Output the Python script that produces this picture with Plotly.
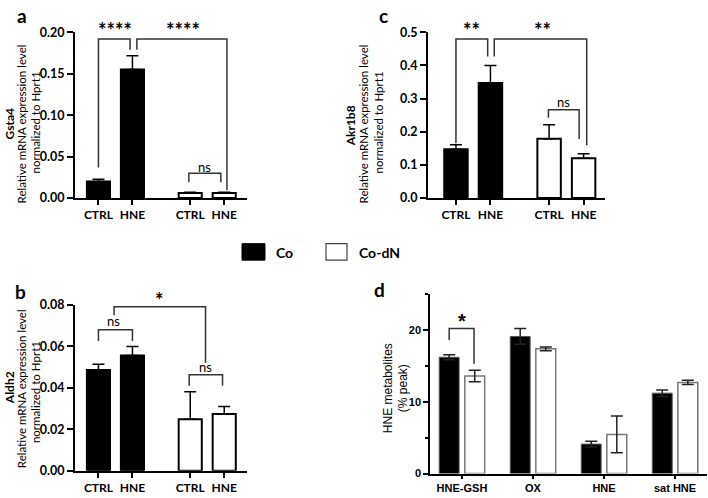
import plotly.graph_objects as go

W, H = 708, 498

# ---------------- data ----------------
cond_labels = ["CTRL", "HNE", "CTRL", "HNE"]
cond_pos = [0, 1, 2.7, 3.7]

gsta4_mean = [0.020, 0.155, 0.006, 0.006]
gsta4_err = [0.0026, 0.0166, 0.0012, 0.0012]

akr1b8_mean = [0.147, 0.347, 0.179, 0.120]
akr1b8_err = [0.014, 0.053, 0.042, 0.014]

aldh2_mean = [0.0485, 0.0555, 0.0248, 0.0273]
aldh2_err = [0.0028, 0.0044, 0.0132, 0.0036]

metab_cats = ["HNE-GSH", "OX", "HNE", "sat HNE"]
metab_co = [16.2, 19.1, 4.1, 11.2]
metab_co_err = [0.35, 1.1, 0.4, 0.45]
metab_codn = [13.6, 17.37, 5.45, 12.7]
metab_codn_err = [0.8, 0.25, 2.55, 0.3]

FONT = "Lato"
ARIAL = "Liberation Sans"


def px_x(p):
    return p / W


def px_y(p):
    return 1 - p / H


fig = go.Figure()

panels = [
    ("a", "x", "y", gsta4_mean, gsta4_err, (75, 247), (25, 196), [0, 0.20], 0.05, ".2f", [-0.69, 4.37]),
    ("c", "x2", "y2", akr1b8_mean, akr1b8_err, (428, 605), (25, 196), [0, 0.5], 0.1, ".1f", [-0.81, 4.32]),
    ("b", "x3", "y3", aldh2_mean, aldh2_err, (75, 247), (306, 477), [0, 0.08], 0.02, ".2f", [-0.69, 4.37]),
]
yranges = {}

layout_axes = {}
for name, xa, ya, means, errs, xd, yd, yr, dt, fmt, xr in panels:
    yranges[ya] = yr
    fig.add_trace(go.Bar(
        x=cond_pos[:2], y=means[:2], xaxis=xa, yaxis=ya, width=0.68,
        marker=dict(color="black", line=dict(color="black", width=2)),
        error_y=dict(type="data", array=errs[:2], arrayminus=[0, 0], symmetric=False,
                     color="black", thickness=1.5, width=6),
        showlegend=False, cliponaxis=False))
    fig.add_trace(go.Bar(
        x=cond_pos[2:], y=means[2:], xaxis=xa, yaxis=ya, width=0.68,
        marker=dict(color="white", line=dict(color="black", width=2)),
        error_y=dict(type="data", array=errs[2:], arrayminus=[0, 0], symmetric=False,
                     color="black", thickness=1.5, width=6),
        showlegend=False, cliponaxis=False))
    xk = "xaxis" + xa[1:]
    yk = "yaxis" + ya[1:]
    layout_axes[xk] = dict(
        domain=[px_x(xd[0]), px_x(xd[1])], anchor=ya, range=xr,
        tickvals=cond_pos, ticktext=cond_labels, showline=True, linecolor="black",
        linewidth=2, ticks="outside", ticklen=5, tickwidth=2, tickcolor="black",
        showgrid=False, zeroline=False,
        tickfont=dict(family=FONT, size=12, color="black", weight="bold"))
    layout_axes[yk] = dict(
        domain=[px_y(yd[1]), px_y(yd[0])], anchor=xa, range=yr, dtick=dt,
        tickformat=fmt, showline=True, linecolor="black", linewidth=2,
        ticks="outside", ticklen=6, tickwidth=2, tickcolor="black",
        showgrid=False, zeroline=False,
        tickfont=dict(family=FONT, size=12.5, color="black", weight="bold"))

# panel d
dx = list(range(len(metab_cats)))
yranges["y4"] = [0, 25]
fig.add_trace(go.Bar(
    x=[v - 0.18 for v in dx], y=metab_co, xaxis="x4", yaxis="y4", width=0.28,
    marker=dict(color="black", line=dict(color="#555", width=1)),
    error_y=dict(type="data", array=metab_co_err, color="#222", thickness=1.5, width=6),
    showlegend=False, cliponaxis=False))
fig.add_trace(go.Bar(
    x=[v + 0.18 for v in dx], y=metab_codn, xaxis="x4", yaxis="y4", width=0.28,
    marker=dict(color="white", line=dict(color="#777", width=1.5)),
    error_y=dict(type="data", array=metab_codn_err, color="#222", thickness=1.5, width=6),
    showlegend=False, cliponaxis=False))
layout_axes["xaxis4"] = dict(
    domain=[px_x(430), px_x(707)], anchor="y4", range=[-0.45, 3.45],
    tickvals=dx, ticktext=metab_cats, showline=True, linecolor="black",
    linewidth=1.5, ticks="outside", ticklen=4, tickwidth=1.5, tickcolor="black",
    showgrid=False, zeroline=False,
    tickfont=dict(family=ARIAL, size=11, color="black", weight="bold"))
layout_axes["yaxis4"] = dict(
    domain=[px_y(480), px_y(295)], anchor="x4", range=[0, 25], tickvals=[0, 10, 20],
    showline=True, linecolor="black", linewidth=1.5, ticks="outside", ticklen=5,
    tickwidth=1.5, tickcolor="black", showgrid=False, zeroline=False,
    minor=dict(tickvals=[5, 15, 25], ticks="outside", ticklen=3, tickwidth=1.5, tickcolor="black"),
    tickfont=dict(family=ARIAL, size=11, color="black", weight="bold"))

shapes = []


def bracket(xa, ya, x0, x1, ytop, yl, yr):
    shapes.append(dict(type="path", xref=xa, yref=ya,
                       path=f"M {x0},{yl} L {x0},{ytop} L {x1},{ytop} L {x1},{yr}",
                       line=dict(color="#333", width=1.5)))


annots = []


def label(xa, ya, x, y, text, size=13, bold=False, family=FONT):
    lo, hi = yranges[ya]
    annots.append(dict(xref=xa, yref=ya + " domain", x=x, y=(y - lo) / (hi - lo), text=text,
                       showarrow=False,
                       font=dict(family=family, size=size, color="black",
                                 weight="bold" if bold else "normal"),
                       xanchor="center", yanchor="middle"))


# panel a brackets
bracket("x", "y", 0, 0.93, 0.192, 0.037, 0.179)
bracket("x", "y", 1.13, 3.78, 0.192, 0.179, 0.0094)
bracket("x", "y", 2.66, 3.6, 0.030, 0.019, 0.019)
label("x", "y", 0.5, 0.203, "****", 20, True)
label("x", "y", 2.5, 0.203, "****", 20, True)
label("x", "y", 3.13, 0.038, "ns", 13)

# panel c brackets
bracket("x2", "y2", 0, 0.92, 0.48, 0.165, 0.427)
bracket("x2", "y2", 1.11, 3.79, 0.48, 0.427, 0.159)
bracket("x2", "y2", 2.68, 3.57, 0.266, 0.242, 0.178)
label("x2", "y2", 0.46, 0.508, "**", 20, True)
label("x2", "y2", 2.5, 0.508, "**", 20, True)
label("x2", "y2", 3.12, 0.29, "ns", 13)

# panel b brackets
bracket("x3", "y3", 0, 1.0, 0.068, 0.0625, 0.0625)
bracket("x3", "y3", 0.46, 3.15, 0.079, 0.075, 0.0519)
bracket("x3", "y3", 2.67, 3.65, 0.0462, 0.041, 0.041)
label("x3", "y3", 0.45, 0.0722, "ns", 13)
label("x3", "y3", 1.8, 0.0825, "*", 20, True)
label("x3", "y3", 3.16, 0.0502, "ns", 13)

# panel d bracket
bracket("x4", "y4", -0.18, 0.17, 20.2, 18.6, 15.3)
label("x4", "y4", 0.0, 21.2, "*", 20, True, ARIAL)

# panel letters
for t, x, y in [("a", 22, 8), ("c", 383, 8), ("b", 20, 292), ("d", 379, 290)]:
    annots.append(dict(xref="paper", yref="paper", x=px_x(x), y=px_y(y), text=t,
                       showarrow=False, xanchor="center", yanchor="middle",
                       font=dict(family=FONT, size=19, color="black", weight="bold")))


def ytitle(xc, yc, text, size=11, bold=False, family=FONT):
    annots.append(dict(xref="paper", yref="paper", x=px_x(xc), y=px_y(yc), text=text,
                       showarrow=False, textangle=-90, xanchor="center", yanchor="middle",
                       font=dict(family=family, size=size, color="black",
                                 weight="bold" if bold else "normal")))


# y titles
ytitle(9, 120, "Gsta4", 12, True)
ytitle(21, 120, "Relative mRNA expression level", 11.5)
ytitle(35, 118, "normalized to Hprt1", 11.5)
ytitle(350, 122, "Akr1b8", 12, True)
ytitle(363, 120, "Relative mRNA expression level", 11.5)
ytitle(378, 118, "normalized to Hprt1", 11.5)
ytitle(9, 392, "Aldh2", 12, True)
ytitle(21, 393, "Relative mRNA expression level", 11.5)
ytitle(35, 396, "normalized to Hprt1", 11.5)
ytitle(388, 392, "HNE metabolites", 12, False, ARIAL)
ytitle(403, 392, "(% peak)", 12, False, ARIAL)

# legend
shapes.append(dict(type="rect", xref="paper", yref="paper", x0=px_x(242), x1=px_x(265),
                   y0=px_y(260), y1=px_y(243), fillcolor="black", line=dict(color="black", width=1)))
shapes.append(dict(type="rect", xref="paper", yref="paper", x0=px_x(326), x1=px_x(347),
                   y0=px_y(260), y1=px_y(243), fillcolor="white", line=dict(color="#444", width=1.2)))
annots.append(dict(xref="paper", yref="paper", x=px_x(274), y=px_y(252), text="Co",
                   showarrow=False, xanchor="left", yanchor="middle",
                   font=dict(family=FONT, size=14, color="black", weight="bold")))
annots.append(dict(xref="paper", yref="paper", x=px_x(357), y=px_y(252), text="Co-dN",
                   showarrow=False, xanchor="left", yanchor="middle",
                   font=dict(family=FONT, size=14, color="black", weight="bold")))

fig.update_layout(
    width=W, height=H, margin=dict(l=0, r=0, t=0, b=0),
    paper_bgcolor="white", plot_bgcolor="white", barmode="overlay",
    shapes=shapes, annotations=annots, showlegend=False,
    **layout_axes)

fig.write_html("out.html")
